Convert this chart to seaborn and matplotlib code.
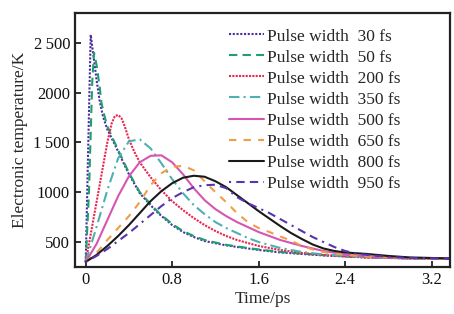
import matplotlib
matplotlib.use("Agg")
import matplotlib.pyplot as plt
import seaborn as sns

# time (ps) and electronic temperature (K), one pair per pulse width
t_30 = [0, 0.02, 0.046, 0.08, 0.1, 0.13, 0.16, 0.2, 0.25, 0.3, 0.36, 0.4, 0.5, 0.6, 0.67,
        0.8, 0.9, 1.0, 1.1, 1.28, 1.4, 1.6, 1.8, 2.0, 2.2, 2.4, 2.6, 2.8, 3.0, 3.37]
T_30 = [300, 1300, 2580, 2300, 2130, 1910, 1760, 1630, 1520, 1410, 1270, 1180, 990, 870, 790,
        670, 600, 550, 510, 470, 450, 420, 395, 380, 365, 355, 345, 340, 335, 330]

t_50 = [0, 0.03, 0.06, 0.077, 0.1, 0.13, 0.145, 0.17, 0.2, 0.25, 0.3, 0.36, 0.4, 0.5, 0.6,
        0.67, 0.8, 0.9, 1.0, 1.1, 1.28, 1.4, 1.6, 1.8, 2.0, 2.2, 2.4, 2.6, 2.8, 3.0, 3.37]
T_50 = [300, 1000, 2100, 2400, 2280, 2050, 1900, 1780, 1660, 1540, 1425, 1285, 1195, 1000, 880,
        800, 680, 610, 560, 520, 475, 455, 425, 400, 383, 368, 357, 347, 341, 336, 331]

t_200 = [0, 0.05, 0.1, 0.15, 0.2, 0.24, 0.27, 0.3, 0.33, 0.36, 0.4, 0.45, 0.5, 0.6, 0.7, 0.8,
         0.9, 1.0, 1.1, 1.2, 1.3, 1.4, 1.6, 1.8, 2.0, 2.2, 2.4, 2.6, 2.8, 3.0, 3.37]
T_200 = [300, 600, 900, 1200, 1500, 1690, 1765, 1775, 1745, 1665, 1530, 1405, 1300, 1150, 1020, 910,
         820, 740, 670, 610, 560, 520, 460, 420, 390, 370, 355, 345, 340, 335, 330]

t_350 = [0, 0.1, 0.2, 0.3, 0.4, 0.5, 0.6, 0.7, 0.8, 0.9, 1.0, 1.1, 1.2, 1.3, 1.4, 1.5, 1.6,
         1.8, 2.0, 2.2, 2.4, 2.6, 2.8, 3.0, 3.37]
T_350 = [300, 650, 1020, 1340, 1510, 1530, 1440, 1290, 1130, 990, 870, 780, 700, 640, 590, 540, 500,
         440, 400, 375, 360, 350, 342, 336, 331]

t_500 = [0, 0.1, 0.2, 0.3, 0.4, 0.5, 0.6, 0.7, 0.8, 0.9, 1.0, 1.1, 1.2, 1.3, 1.4, 1.5, 1.6,
         1.7, 1.8, 1.9, 2.0, 2.2, 2.4, 2.6, 2.8, 3.0, 3.37]
T_500 = [300, 480, 720, 960, 1160, 1300, 1365, 1370, 1300, 1180, 1040, 920, 830, 760, 700, 650, 600,
         560, 520, 490, 460, 410, 375, 355, 345, 338, 332]

t_650 = [0, 0.1, 0.2, 0.3, 0.4, 0.5, 0.6, 0.7, 0.8, 0.9, 1.0, 1.1, 1.2, 1.3, 1.4, 1.5, 1.6,
         1.7, 1.8, 1.9, 2.0, 2.1, 2.2, 2.3, 2.4, 2.6, 2.8, 3.0, 3.37]
T_650 = [300, 390, 520, 640, 760, 900, 1070, 1190, 1255, 1265, 1220, 1110, 1000, 900, 790, 700, 640,
         600, 555, 515, 460, 425, 400, 385, 370, 355, 345, 338, 332]

t_800 = [0, 0.1, 0.2, 0.3, 0.4, 0.5, 0.6, 0.7, 0.8, 0.9, 1.0, 1.1, 1.2, 1.3, 1.4, 1.5, 1.6,
         1.7, 1.8, 1.9, 2.0, 2.1, 2.2, 2.3, 2.4, 2.6, 2.8, 3.0, 3.37]
T_800 = [300, 370, 460, 560, 670, 790, 910, 1010, 1090, 1145, 1165, 1155, 1110, 1050, 970, 890, 810,
         735, 660, 590, 530, 475, 435, 410, 395, 380, 360, 345, 335]

t_950 = [0, 0.1, 0.2, 0.3, 0.4, 0.5, 0.6, 0.7, 0.8, 0.9, 1.0, 1.1, 1.2, 1.3, 1.4, 1.5, 1.6,
         1.7, 1.8, 1.9, 2.0, 2.1, 2.2, 2.3, 2.4, 2.5, 2.6, 2.8, 3.0, 3.37]
T_950 = [300, 360, 430, 510, 590, 680, 770, 860, 940, 1000, 1050, 1070, 1075, 1040, 950, 890, 840,
         790, 730, 670, 610, 550, 500, 450, 410, 385, 370, 350, 340, 333]

labels = ["Pulse width  30 fs", "Pulse width  50 fs", "Pulse width  200 fs", "Pulse width  350 fs",
          "Pulse width  500 fs", "Pulse width  650 fs", "Pulse width  800 fs", "Pulse width  950 fs"]
x_ticks = [0, 0.8, 1.6, 2.4, 3.2]
x_tick_labels = ["0", "0.8", "1.6", "2.4", "3.2"]
y_ticks = [500, 1000, 1500, 2000, 2500]
y_tick_labels = ["500", "1000", "1\u2009500", "2000", "2\u2009500"]

series = [(t_30, T_30), (t_50, T_50), (t_200, T_200), (t_350, T_350),
          (t_500, T_500), (t_650, T_650), (t_800, T_800), (t_950, T_950)]
colors = ["#4a2c9c", "#1f9e72", "#e8264e", "#4fb0b2", "#d655b3", "#f39c47", "#1a1a1a", "#5734b0"]
dashes = [(1, 0.8), (4, 2.5), (1, 0.6), (5, 2, 1, 2), None, (3.5, 3.5), None, (1, 2.5, 4, 2.5, 4, 2.5)]

sns.set_style("ticks")
plt.rcParams["font.family"] = ["Liberation Serif", "DejaVu Serif"]

fig, ax = plt.subplots(figsize=(4.54, 3.14), dpi=100)
fig.subplots_adjust(left=0.165, right=0.991, bottom=0.150, top=0.959)

for (t, T), lab, c, d in zip(series, labels, colors, dashes):
    sns.lineplot(x=t, y=T, ax=ax, color=c, label=lab, linewidth=1.5, sort=False)
    line = ax.lines[-1]
    if d is not None:
        line.set_dashes(d)

ax.set_xlim(-0.1, 3.37)
ax.set_ylim(250, 2800)
ax.set_xticks(x_ticks)
ax.set_xticklabels(x_tick_labels)
ax.set_yticks(y_ticks)
ax.set_yticklabels(y_tick_labels)
ax.tick_params(direction="in", length=4, width=1.2, labelsize=12, colors="#111111")
for sp in ax.spines.values():
    sp.set_linewidth(1.6)
    sp.set_color("#222222")

ax.set_xlabel("Time/ps", fontsize=12.5, labelpad=2)
ax.set_ylabel("Electronic temperature/K", fontsize=12.5, labelpad=4)

ax.legend(loc="upper right", bbox_to_anchor=(0.895, 0.98), frameon=False, fontsize=12.5,
          handlelength=2.0, handletextpad=0.15, labelspacing=0.28, borderaxespad=0.2)

fig.savefig("out.png", dpi=100)
